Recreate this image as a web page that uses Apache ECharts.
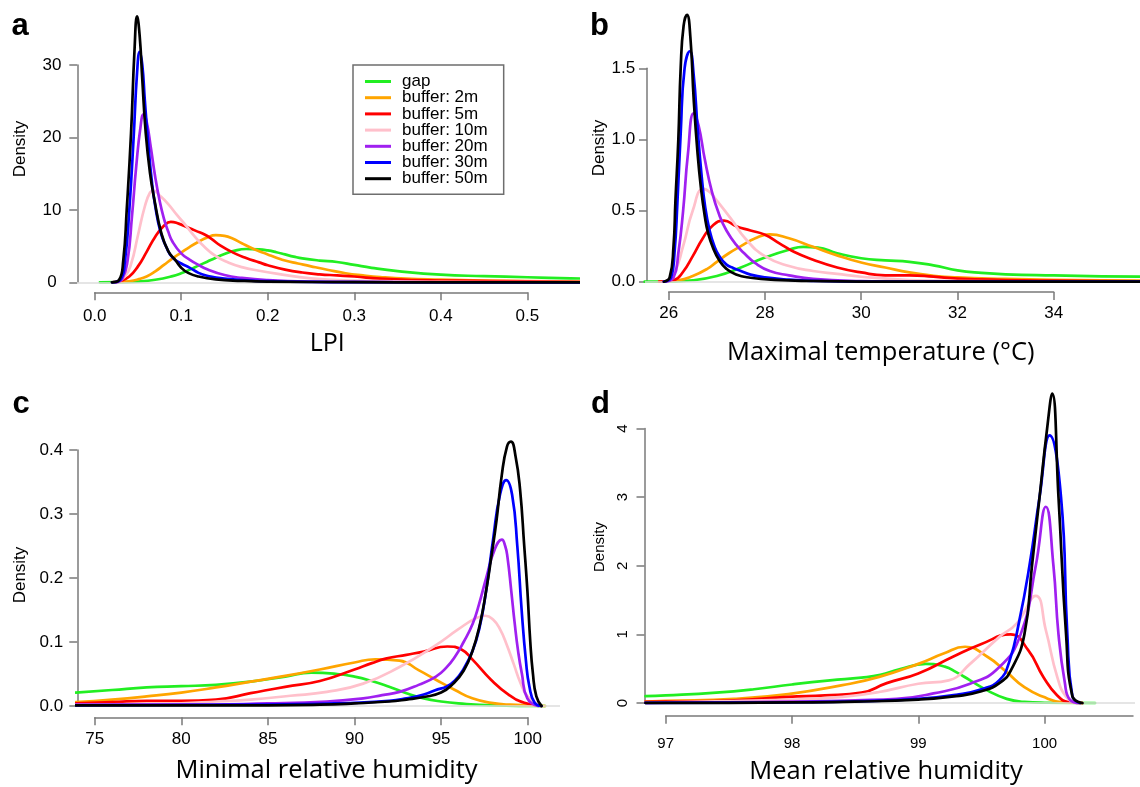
<!DOCTYPE html>
<html>
<head>
<meta charset="utf-8">
<script src="https://cdn.jsdelivr.net/npm/echarts@6/dist/echarts.min.js"></script>
<style>
  html, body { margin: 0; padding: 0; background: #fff; }
  #chart { width: 1140px; height: 787px; }
</style>
</head>
<body>
<div id="chart"></div>
<script>
// Kernel density curves of four microclimate / landscape variables,
// one curve per sampling zone (gap and buffers of increasing width).
const seriesNames = ['gap', 'buffer: 2m', 'buffer: 5m', 'buffer: 10m', 'buffer: 20m', 'buffer: 30m', 'buffer: 50m'];
const seriesColors = ['#22ee22', '#ffa500', '#ff0000', '#ffc0cb', '#a020f0', '#0000ff', '#000000'];

// ---- a: LPI  [LPI, density]
const lpiGap = [[0.006,0],[0.03,0.02],[0.05,0.1],[0.07,0.35],[0.09,0.85],[0.1,1.25],[0.11,1.75],[0.12,2.3],[0.13,2.85],[0.14,3.4],[0.15,3.9],[0.16,4.3],[0.175,4.6],[0.19,4.55],[0.2,4.4],[0.21,4.15],[0.22,3.85],[0.23,3.55],[0.24,3.3],[0.26,3.0],[0.28,2.8],[0.3,2.4],[0.32,2.0],[0.35,1.55],[0.4,1.05],[0.45,0.85],[0.5,0.7],[0.55,0.55],[0.58,0.5]];
const lpiB2 = [[0.02,0],[0.03,0.05],[0.04,0.15],[0.05,0.4],[0.06,0.8],[0.07,1.5],[0.08,2.4],[0.09,3.3],[0.1,4.1],[0.11,4.9],[0.12,5.6],[0.13,6.2],[0.14,6.5],[0.15,6.4],[0.16,6.0],[0.17,5.4],[0.18,4.8],[0.19,4.3],[0.2,3.85],[0.21,3.4],[0.22,3.0],[0.235,2.6],[0.25,2.2],[0.27,1.7],[0.29,1.25],[0.31,0.95],[0.33,0.72],[0.36,0.5],[0.4,0.37],[0.45,0.24],[0.5,0.15],[0.58,0.08]];
const lpiB5 = [[0.02,0],[0.03,0.2],[0.04,0.8],[0.05,2.2],[0.06,4.2],[0.07,6.3],[0.08,7.8],[0.088,8.35],[0.097,8.1],[0.107,7.6],[0.117,7.1],[0.127,6.6],[0.135,6.0],[0.145,5.1],[0.16,4.1],[0.175,3.35],[0.19,2.75],[0.2,2.35],[0.22,1.75],[0.24,1.35],[0.26,1.1],[0.28,0.95],[0.3,0.8],[0.33,0.5],[0.37,0.3],[0.42,0.22],[0.5,0.12],[0.58,0.06]];
const lpiB10 = [[0.025,0],[0.035,0.8],[0.042,2.5],[0.05,6.5],[0.058,10.5],[0.064,12.4],[0.068,12.65],[0.075,12.0],[0.085,10.8],[0.095,9.3],[0.105,7.9],[0.115,6.4],[0.125,5.1],[0.14,3.6],[0.155,2.7],[0.17,2.1],[0.19,1.6],[0.21,1.2],[0.25,0.55],[0.3,0.25],[0.4,0.06],[0.5,0.02],[0.58,0.01]];
const lpiB20 = [[0.025,0],[0.032,0.5],[0.038,3],[0.043,9],[0.048,16],[0.053,21.5],[0.0565,23.2],[0.06,22.2],[0.065,18.5],[0.07,14.5],[0.075,11.3],[0.08,8.8],[0.085,7.0],[0.09,5.6],[0.1,4.0],[0.11,3.1],[0.12,2.4],[0.13,1.8],[0.15,1.0],[0.17,0.6],[0.2,0.3],[0.25,0.1],[0.3,0.05],[0.4,0.01],[0.58,0]];
const lpiB30 = [[0.02,0],[0.03,0.4],[0.035,3],[0.04,10],[0.045,20],[0.049,29],[0.052,31.8],[0.055,30],[0.058,25],[0.062,19],[0.066,14],[0.07,10.5],[0.076,7],[0.083,4.8],[0.09,3.4],[0.1,2.6],[0.11,2],[0.12,1.3],[0.13,0.9],[0.15,0.5],[0.18,0.25],[0.2,0.15],[0.25,0.05],[0.3,0.02],[0.4,0],[0.58,0]];
const lpiB50 = [[0.02,0],[0.028,0.3],[0.033,3],[0.037,10],[0.042,20.6],[0.046,32],[0.049,36.7],[0.052,34],[0.055,28],[0.059,20.6],[0.064,15],[0.069,11.4],[0.077,6.8],[0.085,4.3],[0.093,3.1],[0.1,2.0],[0.108,1.3],[0.12,0.8],[0.14,0.4],[0.17,0.2],[0.2,0.1],[0.3,0.02],[0.4,0],[0.58,0]];

// ---- b: maximal temperature (°C)
const tmaxGap = [[25.5,0],[26,0.002],[26.5,0.01],[27,0.04],[27.5,0.1],[28,0.17],[28.5,0.225],[28.8,0.245],[29.1,0.24],[29.5,0.2],[30,0.165],[30.5,0.15],[31,0.14],[31.5,0.115],[32,0.08],[32.5,0.062],[33,0.052],[34,0.044],[35,0.038],[36,0.035]];
const tmaxB2 = [[25.8,0],[26.2,0.01],[26.5,0.04],[26.8,0.09],[27,0.14],[27.25,0.2],[27.5,0.25],[27.8,0.305],[28.1,0.333],[28.5,0.305],[29,0.245],[29.5,0.185],[30,0.135],[30.5,0.1],[31,0.065],[31.5,0.042],[32,0.03],[33,0.02],[34,0.013],[35,0.009],[36,0.007]];
const tmaxB5 = [[25.8,0],[26.1,0.01],[26.3,0.07],[26.5,0.18],[26.7,0.3],[26.9,0.39],[27.15,0.43],[27.4,0.39],[27.7,0.36],[28,0.33],[28.3,0.27],[28.6,0.21],[29,0.155],[29.5,0.1],[30,0.065],[30.5,0.045],[31,0.045],[31.5,0.035],[32,0.022],[33,0.012],[34,0.007],[35,0.004],[36,0.003]];
const tmaxB10 = [[25.9,0],[26.1,0.05],[26.3,0.25],[26.5,0.5],[26.72,0.652],[26.85,0.63],[27,0.57],[27.3,0.44],[27.6,0.3],[28,0.18],[28.5,0.11],[29,0.075],[29.5,0.055],[30,0.035],[31,0.012],[32,0.005],[34,0.001],[36,0]];
const tmaxB20 = [[25.9,0],[26.1,0.03],[26.2,0.2],[26.3,0.5],[26.4,0.9],[26.52,1.184],[26.62,1.1],[26.75,0.86],[26.9,0.63],[27.05,0.47],[27.2,0.36],[27.4,0.26],[27.6,0.19],[27.8,0.13],[28.1,0.075],[28.5,0.045],[29,0.02],[30,0.005],[31,0.001],[36,0]];
const tmaxB30 = [[25.9,0],[26.05,0.03],[26.12,0.2],[26.18,0.55],[26.25,1.05],[26.33,1.5],[26.44,1.62],[26.52,1.45],[26.6,1.08],[26.68,0.76],[26.76,0.52],[26.85,0.36],[26.95,0.25],[27.05,0.18],[27.2,0.12],[27.35,0.095],[27.5,0.075],[27.7,0.05],[28,0.03],[28.5,0.014],[29,0.006],[30,0.001],[36,0]];
const tmaxB50 = [[25.9,0],[26.02,0.03],[26.1,0.25],[26.14,0.57],[26.2,1.0],[26.25,1.51],[26.31,1.8],[26.38,1.876],[26.45,1.72],[26.52,1.28],[26.6,0.9],[26.67,0.66],[26.75,0.46],[26.82,0.34],[26.93,0.23],[27.05,0.15],[27.2,0.09],[27.4,0.05],[27.7,0.028],[28.2,0.013],[29,0.005],[30,0.001],[36,0]];

// ---- c: minimal relative humidity
const rhMinGap = [[73.9,0.021],[76,0.025],[78,0.029],[80,0.031],[82,0.033],[84,0.038],[86,0.046],[87.5,0.052],[89,0.05],[90,0.046],[91,0.039],[92,0.03],[93,0.02],[94,0.012],[95,0.007],[96,0.004],[98,0.001],[101,0]];
const rhMinB2 = [[73.9,0.006],[76,0.01],[78,0.015],[80,0.021],[82,0.029],[84,0.038],[86,0.047],[88,0.057],[90,0.068],[91.2,0.073],[92.6,0.071],[93.7,0.056],[94.7,0.041],[95.8,0.025],[96.8,0.012],[97.9,0.005],[99,0.002],[101,0]];
const rhMinB5 = [[73.9,0.004],[76,0.006],[78,0.008],[80,0.008],[82,0.01],[84,0.02],[86,0.03],[88,0.039],[90,0.057],[91,0.067],[91.8,0.074],[93,0.08],[94,0.085],[95.36,0.093],[96.2,0.088],[96.83,0.072],[97.88,0.041],[98.93,0.017],[99.8,0.005],[100.8,0]];
const rhMinB10 = [[73.9,0.002],[78,0.003],[80,0.004],[82,0.007],[84,0.01],[86.3,0.016],[88.4,0.022],[90.5,0.035],[92.6,0.061],[94.7,0.095],[96,0.12],[97,0.137],[97.56,0.141],[98,0.135],[98.4,0.12],[98.8,0.095],[99.2,0.065],[99.6,0.035],[100,0.015],[100.8,0]];
const rhMinB20 = [[73.9,0.002],[80,0.002],[85,0.004],[88.4,0.007],[90.5,0.012],[91.6,0.017],[92.6,0.022],[93.7,0.033],[94.7,0.046],[95.3,0.06],[95.8,0.077],[96.3,0.1],[96.83,0.129],[97.2,0.16],[97.6,0.2],[98.1,0.245],[98.51,0.26],[98.7,0.25],[98.83,0.233],[99.05,0.18],[99.25,0.129],[99.45,0.085],[99.66,0.051],[99.98,0.012],[100.6,0]];
const rhMinB30 = [[73.9,0.001],[85,0.002],[90,0.005],[92,0.008],[93,0.012],[94,0.018],[94.8,0.026],[95.3,0.03],[95.8,0.04],[96.3,0.058],[96.8,0.085],[97.2,0.12],[97.6,0.18],[98,0.26],[98.4,0.33],[98.76,0.353],[99.1,0.33],[99.4,0.25],[99.65,0.15],[99.9,0.07],[100.1,0.03],[100.4,0.005],[100.8,0]];
const rhMinB50 = [[73.9,0.001],[85,0.001],[88,0.002],[90,0.004],[92,0.007],[93,0.01],[94,0.014],[95,0.021],[95.7,0.035],[96.3,0.055],[96.8,0.085],[97.25,0.129],[97.6,0.18],[97.9,0.233],[98.2,0.29],[98.5,0.36],[98.8,0.405],[99.03,0.413],[99.3,0.39],[99.56,0.338],[99.8,0.25],[99.98,0.181],[100.15,0.1],[100.3,0.051],[100.5,0.015],[100.8,0]];

// ---- d: mean relative humidity
const rhMeanGap = [[96.84,0.1],[97,0.11],[97.4,0.15],[97.7,0.2],[98,0.27],[98.3,0.33],[98.55,0.37],[98.7,0.41],[98.85,0.49],[99.06,0.57],[99.21,0.53],[99.3,0.45],[99.41,0.33],[99.55,0.18],[99.7,0.06],[99.84,0.015],[100,0.004],[100.4,0]];
const rhMeanB2 = [[96.84,0.02],[97,0.03],[97.54,0.06],[97.97,0.13],[98.4,0.26],[98.69,0.38],[99,0.57],[99.2,0.72],[99.37,0.82],[99.55,0.67],[99.7,0.45],[99.84,0.23],[99.99,0.09],[100.13,0.015],[100.3,0]];
const rhMeanB5 = [[96.84,0.015],[97,0.02],[97.54,0.04],[97.97,0.09],[98.26,0.11],[98.55,0.15],[98.75,0.29],[99,0.43],[99.27,0.67],[99.5,0.86],[99.73,1.0],[99.87,0.77],[99.99,0.38],[100.1,0.11],[100.19,0.015],[100.3,0]];
const rhMeanB10 = [[96.84,0.005],[97,0.01],[98,0.05],[98.4,0.09],[98.69,0.16],[99,0.28],[99.24,0.33],[99.41,0.57],[99.64,0.96],[99.78,1.16],[99.93,1.56],[100.01,1.06],[100.1,0.38],[100.17,0.09],[100.25,0]];
const rhMeanB20 = [[96.84,0.003],[97,0.005],[98,0.02],[98.5,0.04],[98.83,0.06],[99.12,0.14],[99.41,0.28],[99.64,0.52],[99.81,1.0],[99.93,2.0],[100.01,2.86],[100.07,2.0],[100.11,1.0],[100.16,0.3],[100.2,0.05],[100.28,0]];
const rhMeanB30 = [[96.84,0.001],[97.5,0.005],[98,0.01],[98.5,0.025],[99,0.06],[99.3,0.12],[99.5,0.2],[99.64,0.33],[99.72,0.6],[99.8,1.2],[99.88,2.0],[99.96,3.0],[100.04,3.9],[100.13,3.0],[100.18,1.0],[100.22,0.1],[100.28,0]];
const rhMeanB50 = [[96.84,0.001],[97.5,0.003],[98,0.008],[98.5,0.02],[99,0.05],[99.3,0.1],[99.5,0.17],[99.65,0.3],[99.74,0.5],[99.84,1.0],[99.9,2.0],[99.96,3.0],[100.02,4.0],[100.06,4.51],[100.11,3.0],[100.17,1.0],[100.22,0.1],[100.3,0]];

// tick values
const lpiTicks = [0, 0.1, 0.2, 0.3, 0.4, 0.5];
const lpiDensityTicks = [0, 10, 20, 30];
const tmaxTicks = [26, 28, 30, 32, 34];
const tmaxDensityTicks = [0, 0.5, 1.0, 1.5];
const rhMinTicks = [75, 80, 85, 90, 95, 100];
const rhMinDensityTicks = [0, 0.1, 0.2, 0.3, 0.4];
const rhMeanTicks = [97, 98, 99, 100];
const rhMeanDensityTicks = [0, 1, 2, 3, 4];

// panel layout (pixels) and text
const panels = [
  { letter: 'a', title: 'LPI', curves: [lpiGap, lpiB2, lpiB5, lpiB10, lpiB20, lpiB30, lpiB50],
    xTicks: lpiTicks, xDigits: 1, yTicks: lpiDensityTicks, yDigits: 0,
    box: { left: 77, right: 578, top: 5, bottom: 292 },
    xPix: [94.7, 527.3], yPix: [282.3, 65], xAxisY: 292.3, yAxisX: 77.3,
    xLabelMargin: 16, yLabelMargin: 25.3, tickFont: 17, yRotate: 0,
    letterPos: [11.5, 26.6], titlePos: [327.3, 343.4], titleSize: 25,
    densityPos: [20, 149], densitySize: 17 },
  { letter: 'b', title: 'Maximal temperature (°C)', curves: [tmaxGap, tmaxB2, tmaxB5, tmaxB10, tmaxB20, tmaxB30, tmaxB50],
    xTicks: tmaxTicks, xDigits: 0, yTicks: tmaxDensityTicks, yDigits: 1,
    box: { left: 645, right: 1140, top: 4, bottom: 292 },
    xPix: [668.7, 1053.7], yPix: [281.7, 68.3], xAxisY: 292, yAxisX: 647,
    xLabelMargin: 13, yLabelMargin: 23.7, tickFont: 17, yRotate: 0,
    letterPos: [590, 26.6], titlePos: [880.8, 352.7], titleSize: 25.5,
    densityPos: [599, 148], densitySize: 17 },
  { letter: 'c', title: 'Minimal relative humidity', curves: [rhMinGap, rhMinB2, rhMinB5, rhMinB10, rhMinB20, rhMinB30, rhMinB50],
    xTicks: rhMinTicks, xDigits: 0, yTicks: rhMinDensityTicks, yDigits: 1,
    box: { left: 77, right: 560, top: 431, bottom: 717 },
    xPix: [94.7, 527.7], yPix: [706, 450], xAxisY: 717.3, yAxisX: 77.3,
    xLabelMargin: 14, yLabelMargin: 26, tickFont: 17, yRotate: 0,
    letterPos: [12.5, 404.3], titlePos: [326.5, 770.9], titleSize: 25.5,
    densityPos: [20.5, 575], densitySize: 17 },
  { letter: 'd', title: 'Mean relative humidity', curves: [rhMeanGap, rhMeanB2, rhMeanB5, rhMeanB10, rhMeanB20, rhMeanB30, rhMeanB50],
    xTicks: rhMeanTicks, xDigits: 0, yTicks: rhMeanDensityTicks, yDigits: 0,
    box: { left: 644.5, right: 1135, top: 381, bottom: 715.7 },
    xPix: [665.7, 1044.6], yPix: [703, 428.5], xAxisY: 715.7, yAxisX: 644.5, xAxisEnd: 1133,
    xLabelMargin: 21, yLabelMargin: 14.5, tickFont: 15, yRotate: 90,
    letterPos: [591, 404.3], titlePos: [886, 771.9], titleSize: 25.5,
    densityPos: [599.5, 547], densitySize: 15 }
];

const ARIAL = '"Liberation Sans", Arial, Helvetica, sans-serif';
const TITLE_FONT = '"Open Sans", Lato, sans-serif';
const axisGrey = { color: '#7a7a7a', width: 1.5 };

// value at pixel p for a linear scale through (v0,p0) and (v1,p1)
function pixToVal(p, v0, p0, v1, p1) { return v0 + (p - p0) * (v1 - v0) / (p1 - p0); }

const grids = [], xAxes = [], yAxes = [], series = [], graphics = [];
const n = panels.length;

panels.forEach((p, i) => {
  const xt0 = p.xTicks[0], xt1 = p.xTicks[p.xTicks.length - 1];
  const yt0 = p.yTicks[0], yt1 = p.yTicks[p.yTicks.length - 1];
  // data area
  grids[i] = { left: p.box.left, top: p.box.top, width: p.box.right - p.box.left,
               height: p.box.bottom - p.box.top, outerBoundsMode: 'none', containLabel: false };
  xAxes[i] = { type: 'value', gridIndex: i, show: false,
               min: pixToVal(p.box.left, xt0, p.xPix[0], xt1, p.xPix[1]),
               max: pixToVal(p.box.right, xt0, p.xPix[0], xt1, p.xPix[1]) };
  yAxes[i] = { type: 'value', gridIndex: i, show: false,
               min: pixToVal(p.box.bottom, yt0, p.yPix[0], yt1, p.yPix[1]),
               max: pixToVal(p.box.top, yt0, p.yPix[0], yt1, p.yPix[1]) };

  // x axis drawn only across its tick span
  const xEndPix = p.xAxisEnd || p.xPix[1];
  const gx = n + i;
  grids[gx] = { left: p.xPix[0], top: p.xAxisY - 10, width: xEndPix - p.xPix[0], height: 10,
                outerBoundsMode: 'none', containLabel: false };
  xAxes[gx] = { type: 'value', gridIndex: gx, position: 'bottom', min: xt0,
                max: pixToVal(xEndPix, xt0, p.xPix[0], xt1, p.xPix[1]),
                axisLine: { show: true, lineStyle: axisGrey },
                axisTick: { show: true, length: 8, lineStyle: axisGrey, customValues: p.xTicks },
                axisLabel: { show: true, customValues: p.xTicks, margin: p.xLabelMargin,
                             formatter: v => Number(v).toFixed(p.xDigits),
                             fontFamily: ARIAL, fontSize: p.tickFont, color: '#000' },
                splitLine: { show: false } };
  yAxes[gx] = { type: 'value', gridIndex: gx, show: false };

  // y axis drawn only across its tick span
  const gy = 2 * n + i;
  grids[gy] = { left: p.yAxisX, top: p.yPix[1], width: 10, height: p.yPix[0] - p.yPix[1],
                outerBoundsMode: 'none', containLabel: false };
  xAxes[gy] = { type: 'value', gridIndex: gy, show: false };
  yAxes[gy] = { type: 'value', gridIndex: gy, position: 'left', min: yt0, max: yt1,
                axisLine: { show: true, lineStyle: axisGrey },
                axisTick: { show: true, length: 8, lineStyle: axisGrey, customValues: p.yTicks },
                axisLabel: { show: true, customValues: p.yTicks, margin: p.yLabelMargin,
                             align: p.yRotate ? undefined : 'center', rotate: p.yRotate,
                             formatter: v => Number(v).toFixed(p.yDigits),
                             fontFamily: ARIAL, fontSize: p.tickFont, color: '#000' },
                splitLine: { show: false } };

  // density curves
  p.curves.forEach((data, k) => {
    const s = {
      type: 'line', name: seriesNames[k], xAxisIndex: i, yAxisIndex: i,
      data: data, showSymbol: false, symbol: 'none', smooth: 0.5,
      clip: true, silent: true, z: 2 + k,
      lineStyle: { color: seriesColors[k], width: 2.7, join: 'round', cap: 'round' },
      itemStyle: { color: seriesColors[k] }
    };
    if (k === 0) {
      s.markLine = { silent: true, symbol: 'none', label: { show: false }, animation: false,
                     lineStyle: { color: '#dddddd', width: 1.5, type: 'solid' },
                     data: [{ yAxis: 0 }] };
    }
    series.push(s);
  });

  // panel letter, axis titles
  graphics.push({ type: 'text', x: p.letterPos[0], y: p.letterPos[1],
    style: { text: p.letter, fontFamily: ARIAL, fontWeight: 'bold', fontSize: 31, fill: '#000',
             align: 'left', verticalAlign: 'middle' } });
  graphics.push({ type: 'text', x: p.titlePos[0], y: p.titlePos[1],
    style: { text: p.title, fontFamily: TITLE_FONT, fontSize: p.titleSize, fill: '#000',
             align: 'center', verticalAlign: 'middle' } });
  graphics.push({ type: 'text', x: p.densityPos[0], y: p.densityPos[1], rotation: Math.PI / 2,
    style: { text: 'Density', fontFamily: ARIAL, fontSize: p.densitySize, fill: '#000',
             align: 'center', verticalAlign: 'middle' } });
});

const chart = echarts.init(document.getElementById('chart'), null, { renderer: 'canvas' });
chart.setOption({
  animation: false,
  backgroundColor: '#fff',
  grid: grids,
  xAxis: xAxes,
  yAxis: yAxes,
  series: series,
  graphic: graphics,
  legend: {
    show: true, orient: 'vertical', left: 353, top: 65,
    padding: [8, 16, 7, 12], itemGap: -0.8, itemWidth: 26, itemHeight: 3, icon: 'rect',
    borderColor: '#6e6e6e', borderWidth: 1.5, backgroundColor: '#fff',
    selectedMode: false,
    textStyle: { fontFamily: ARIAL, fontSize: 17, color: '#000', lineHeight: 16, padding: [0, 0, 0, 6] },
    data: seriesNames
  }
});
</script>
</body>
</html>
